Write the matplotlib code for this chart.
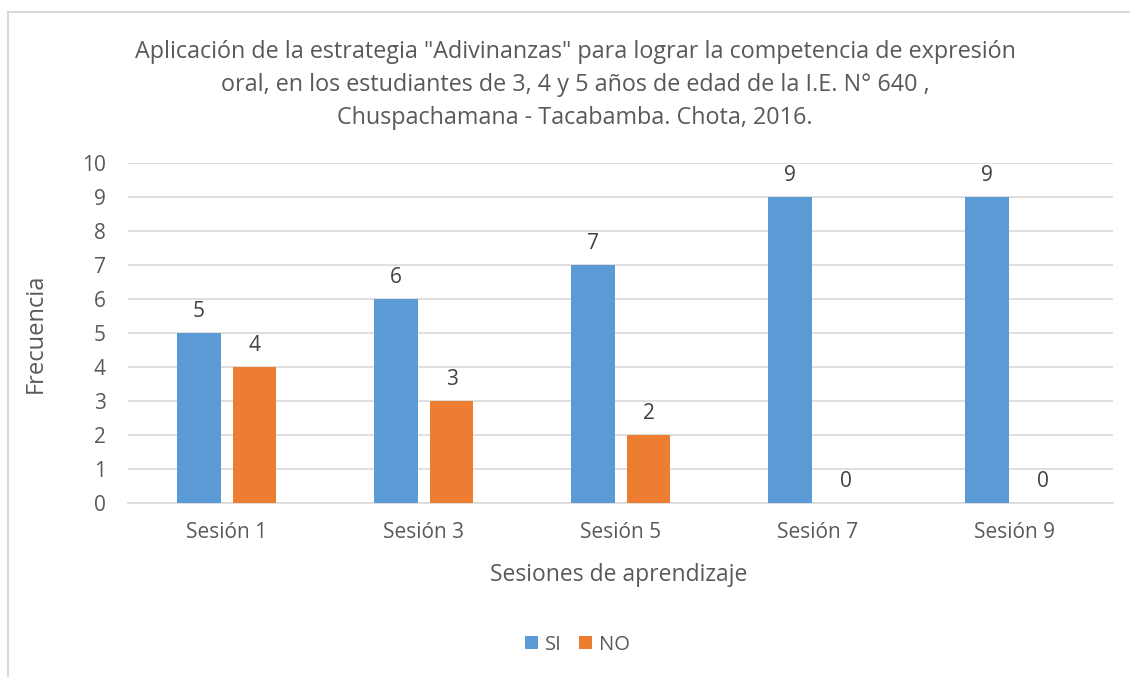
import numpy as np
import matplotlib.pyplot as plt
from matplotlib.lines import Line2D

sesiones = ["Sesión 1", "Sesión 3", "Sesión 5", "Sesión 7", "Sesión 9"]
si = [5, 6, 7, 9, 9]
no = [4, 3, 2, 0, 0]

titulo = ('Aplicación de la estrategia "Adivinanzas" para lograr la competencia de expresión\n'
          'oral, en los estudiantes de 3, 4 y 5 años de edad de la I.E. N° 640 ,\n'
          'Chuspachamana - Tacabamba. Chota, 2016.')

plt.rcParams['font.family'] = ['Open Sans', 'DejaVu Sans']
gris = "#595959"
azul = "#5B9BD5"
naranja = "#ED7D31"

fig = plt.figure(figsize=(11.3, 6.77), dpi=100)
ax = fig.add_axes([0.1133, 0.257, 0.8717, 0.502])

x = np.arange(len(sesiones))
w = 0.223
off = 0.142
b1 = ax.bar(x - off, si, w, color=azul, label="SI", zorder=3)
b2 = ax.bar(x + off, no, w, color=naranja, label="NO", zorder=3)

for bars in (b1, b2):
    for r in bars:
        ax.annotate(str(int(r.get_height())), (r.get_x() + r.get_width() / 2, r.get_height()),
                    xytext=(0, 8), textcoords="offset points", ha="center", va="bottom",
                    fontsize=15, color="#404040")

ax.set_xlim(-0.5, len(sesiones) - 0.5)
ax.set_ylim(0, 10)
ax.set_yticks(range(0, 11))
ax.set_xticks(x)
ax.set_xticklabels(sesiones)
ax.tick_params(axis="both", length=0, labelsize=15, labelcolor=gris)
ax.tick_params(axis="x", pad=14)
ax.tick_params(axis="y", pad=16)
ax.grid(axis="y", color="#D9D9D9", lw=1.2, zorder=0)
for s in ["top", "right", "left"]:
    ax.spines[s].set_visible(False)
ax.spines["bottom"].set_color("#D9D9D9")
ax.spines["bottom"].set_linewidth(1.2)

ax.set_xlabel("Sesiones de aprendizaje", fontsize=16.5, color=gris)
ax.xaxis.set_label_coords(0.498, -0.176)
ax.set_ylabel("Frecuencia", fontsize=17, color=gris)
ax.yaxis.set_label_coords(-0.082, 0.5)

fig.text(0.509, 0.9415, titulo, ha="center", va="top", fontsize=16.8, color=gris,
         linespacing=1.52)

fig.legend(handles=[b1, b2], labels=["SI", "NO"], loc="center", bbox_to_anchor=(0.511, 0.048),
           ncol=2, frameon=False, fontsize=14.5, labelcolor=gris, handlelength=0.6,
           handleheight=0.6, handletextpad=0.35, columnspacing=0.9)

# borde del grafico (solo arriba e izquierda visibles)
fig.add_artist(Line2D([0.0068, 1.0], [0.982, 0.982], color="#D9D9D9", lw=1.5, transform=fig.transFigure))
fig.add_artist(Line2D([0.0068, 0.0068], [0.0, 0.982], color="#D9D9D9", lw=1.5, transform=fig.transFigure))

fig.savefig("out.png", dpi=100)
